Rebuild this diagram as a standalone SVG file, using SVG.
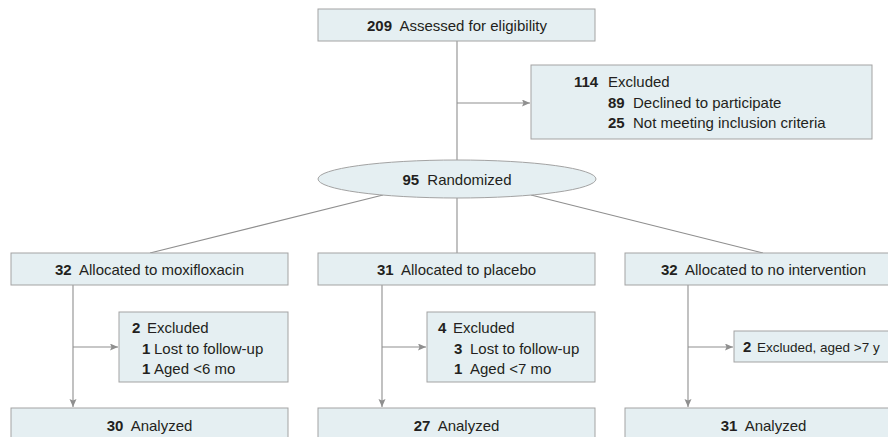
<svg xmlns="http://www.w3.org/2000/svg" width="888" height="437" viewBox="0 0 888 437">
<style>
.box{fill:#e5eff2;stroke:#a3a3a3;stroke-width:1}
.ln{stroke:#8f8f8f;stroke-width:1.1;fill:none}
.ar{marker-end:url(#ah)}
text{font-family:"Liberation Sans",Arial,sans-serif;font-size:15px;fill:#231f20}
.n{font-weight:bold}
.c{text-anchor:middle}
.s{font-size:13.5px}
</style>
<defs>
<marker id="ah" markerUnits="userSpaceOnUse" markerWidth="9" markerHeight="8" refX="8" refY="3.5" orient="auto">
<path d="M0,0 L8,3.5 L0,7 L1.5,3.5 z" fill="#8f8f8f"/>
</marker>
</defs>
<rect width="888" height="437" fill="#ffffff"/>
<g id="connectors">
<line class="ln" x1="457" y1="41" x2="457" y2="160"/>
<line class="ln ar" x1="457" y1="103" x2="530" y2="103"/>
<line class="ln" x1="383" y1="195" x2="150" y2="253"/>
<line class="ln" x1="457" y1="198" x2="457" y2="253"/>
<line class="ln" x1="531" y1="195" x2="763" y2="253"/>
<line class="ln ar" x1="73" y1="285" x2="73" y2="407"/>
<line class="ln ar" x1="73" y1="347" x2="118" y2="347"/>
<line class="ln ar" x1="382" y1="285" x2="382" y2="407"/>
<line class="ln ar" x1="382" y1="347" x2="426" y2="347"/>
<line class="ln ar" x1="688" y1="285" x2="688" y2="407"/>
<line class="ln ar" x1="688" y1="347" x2="733" y2="347"/>
</g>
<g id="assessed">
<rect class="box" x="318" y="9" width="277" height="32"/>
<text class="c" x="457" y="31"><tspan class="n">209</tspan><tspan dx="4"> Assessed for eligibility</tspan></text>
</g>
<g id="excluded-top">
<rect class="box" x="531" y="65" width="341" height="74"/>
<text x="574" y="87" class="n">114</text><text x="608" y="87">Excluded</text>
<text x="608" y="108" class="n">89</text><text x="633" y="108">Declined to participate</text>
<text x="608" y="128" class="n">25</text><text x="633" y="128">Not meeting inclusion criteria</text>
</g>
<g id="randomized">
<ellipse class="box" cx="457" cy="179" rx="139" ry="19"/>
<text class="c" x="457" y="185"><tspan class="n">95</tspan><tspan dx="4"> Randomized</tspan></text>
</g>
<g id="alloc-moxi">
<rect class="box" x="11" y="253" width="277" height="32"/>
<text class="c" x="149.5" y="275"><tspan class="n">32</tspan><tspan dx="4"> Allocated to moxifloxacin</tspan></text>
</g>
<g id="alloc-placebo">
<rect class="box" x="318" y="253" width="277" height="32"/>
<text class="c" x="456.5" y="275"><tspan class="n">31</tspan><tspan dx="4"> Allocated to placebo</tspan></text>
</g>
<g id="alloc-none">
<rect class="box" x="625" y="253" width="277" height="32"/>
<text class="c" x="763.5" y="275"><tspan class="n">32</tspan><tspan dx="4"> Allocated to no intervention</tspan></text>
</g>
<g id="excl-moxi">
<rect class="box" x="119" y="312" width="169" height="70"/>
<text x="132" y="333" class="n">2</text><text x="147" y="333">Excluded</text>
<text x="142" y="354" class="n">1</text><text x="154" y="354">Lost to follow-up</text>
<text x="142" y="374" class="n">1</text><text x="154" y="374">Aged &lt;6 mo</text>
</g>
<g id="excl-placebo">
<rect class="box" x="427" y="312" width="168" height="70"/>
<text x="438" y="333" class="n">4</text><text x="453" y="333">Excluded</text>
<text x="454" y="354" class="n">3</text><text x="470" y="354">Lost to follow-up</text>
<text x="454" y="374" class="n">1</text><text x="470" y="374">Aged &lt;7 mo</text>
</g>
<g id="excl-none">
<rect class="box" x="734" y="331" width="180" height="31"/>
<text x="743" y="352" class="n">2</text><text x="757" y="352" class="s">Excluded, aged &gt;7 y</text>
</g>
<g id="analyzed-moxi">
<rect class="box" x="11" y="408" width="277" height="40"/>
<text class="c" x="149.5" y="431"><tspan class="n">30</tspan><tspan dx="4"> Analyzed</tspan></text>
</g>
<g id="analyzed-placebo">
<rect class="box" x="318" y="408" width="277" height="40"/>
<text class="c" x="456.5" y="431"><tspan class="n">27</tspan><tspan dx="4"> Analyzed</tspan></text>
</g>
<g id="analyzed-none">
<rect class="box" x="625" y="408" width="277" height="40"/>
<text class="c" x="763.5" y="431"><tspan class="n">31</tspan><tspan dx="4"> Analyzed</tspan></text>
</g>
</svg>
